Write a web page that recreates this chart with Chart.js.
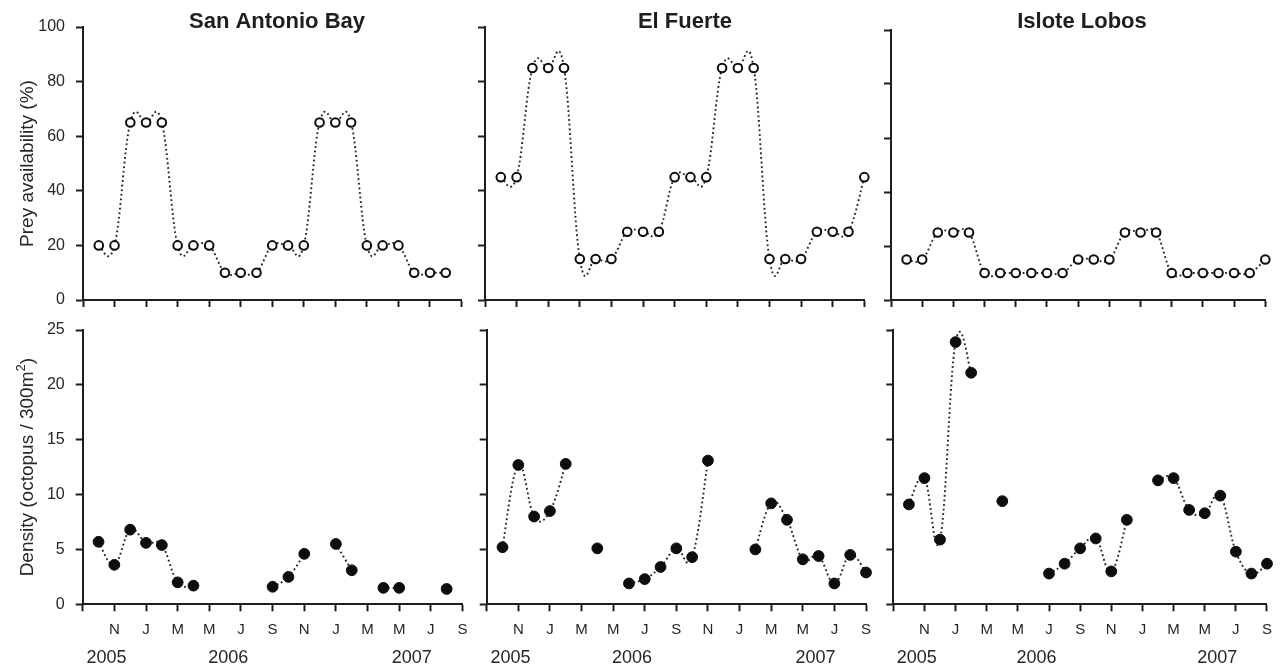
<!DOCTYPE html>
<html>
<head>
<meta charset="utf-8">
<title>Prey availability and octopus density</title>
<script src="https://cdn.jsdelivr.net/npm/chart.js@4.4.1/dist/chart.umd.min.js"></script>
<style>
  html, body { margin: 0; padding: 0; background: #fff; }
  #wrap { position: relative; width: 1282px; height: 668px; overflow: hidden; }
  #wrap canvas { position: absolute; left: 0; top: 0; }
</style>
</head>
<body>
<div id="wrap"></div>
<script>
// ======================================
// DATA
// ======================================
const sites = ['San Antonio Bay', 'El Fuerte', 'Islote Lobos'];

// months counted from Sep 2005 (0) to Sep 2007 (24)
const months = [1, 2, 3, 4, 5, 6, 7, 8, 9, 10, 11, 12, 13, 14, 15, 16, 17, 18, 19, 20, 21, 22, 23, 24];
const monthTicks = ['', 'N', 'J', 'M', 'M', 'J', 'S', 'N', 'J', 'M', 'M', 'J', 'S'];
const years = ['2005', '2006', '2007'];

// Prey availability (%)
const preySAB = [20, 20, 65, 65, 65, 20, 20, 20, 10, 10, 10, 20, 20, 20, 65, 65, 65, 20, 20, 20, 10, 10, 10, null];
const preyEF  = [45, 45, 85, 85, 85, 15, 15, 15, 25, 25, 25, 45, 45, 45, 85, 85, 85, 15, 15, 15, 25, 25, 25, 45];
const preyIL  = [15, 15, 25, 25, 25, 10, 10, 10, 10, 10, 10, 15, 15, 15, 25, 25, 25, 10, 10, 10, 10, 10, 10, 15];

// Density (octopus / 300 m2)
const densSAB = [5.7, 3.6, 6.8, 5.6, 5.4, 2.0, 1.7, null, null, null, null, 1.6, 2.5, 4.6, null, 5.5, 3.1, null, 1.5, 1.5, null, null, 1.4, null];
const densEF  = [5.2, 12.7, 8.0, 8.5, 12.8, null, 5.1, null, 1.9, 2.3, 3.4, 5.1, 4.3, 13.1, null, null, 5.0, 9.2, 7.7, 4.1, 4.4, 1.9, 4.5, 2.9];
const densIL  = [9.1, 11.5, 5.9, 23.9, 21.1, null, 9.4, null, null, 2.8, 3.7, 5.1, 6.0, 3.0, 7.7, null, 11.3, 11.5, 8.6, 8.3, 9.9, 4.8, 2.8, 3.7];

const prey = [preySAB, preyEF, preyIL];
const density = [densSAB, densEF, densIL];


// ======================================
// LAYOUT / STYLE
// ======================================
const W = 1282, H = 668;
const FONT = '"Liberation Sans", Arial, Helvetica, sans-serif';
const INK = '#1e1e1e';
const TEXT = '#262626';

// plot boxes [left, right, top, bottom] in page pixels
const boxes = [
    [[83, 461.5, 27, 300], [485, 864.3, 27, 300], [891, 1265.3, 30, 300]],
    [[82.7, 462.5, 330, 604.3], [486.7, 866, 330, 604.3], [893.3, 1271.7, 330, 604.3]]
];
const titleX = [277, 685, 1082];
const yearAt = [1.5, 9.2, 20.8];   // month position of each year label
const SMOOTH = 0.2;                 // spline tangent factor


// ======================================
// PLUGINS
// ======================================
// smooth curve through the points (uniform spline, overshoots like the original)
const splinePlugin = {
    id: 'spline',
    beforeDatasetsDraw(chart) {
        chart.getSortedVisibleDatasetMetas().forEach(meta => {
            const line = meta.dataset;
            if (!line) return;
            line.updateControlPoints(chart.chartArea, 'x');
            const pts = meta.data;
            pts.forEach((p, i) => {
                if (p.skip) return;
                const a = (i > 0 && !pts[i - 1].skip) ? pts[i - 1] : p;
                const b = (i < pts.length - 1 && !pts[i + 1].skip) ? pts[i + 1] : p;
                const dx = (b.x - a.x) * SMOOTH;
                const dy = (b.y - a.y) * SMOOTH;
                p.cp1x = p.x - dx; p.cp1y = p.y - dy;
                p.cp2x = p.x + dx; p.cp2y = p.y + dy;
            });
        });
    }
};

// titles, year labels, y axis titles
const textPlugin = {
    id: 'panelText',
    afterDraw(chart, args, opts) {
        const ctx = chart.ctx;
        const area = chart.chartArea;
        ctx.save();
        ctx.fillStyle = INK;

        if (opts.title) {
            ctx.font = 'bold 22px ' + FONT;
            ctx.textAlign = 'center';
            ctx.textBaseline = 'alphabetic';
            ctx.fillText(opts.title, opts.titleX, 28);
        }

        if (opts.years) {
            ctx.font = '18px ' + FONT;
            ctx.fillStyle = TEXT;
            ctx.textAlign = 'center';
            ctx.textBaseline = 'alphabetic';
            years.forEach((y, i) => {
                ctx.fillText(y, chart.scales.x.getPixelForValue(yearAt[i]), 663);
            });
        }

        if (opts.yTitle) {
            const parts = opts.yTitle;
            const midY = (area.top + area.bottom) / 2;
            ctx.translate(33, midY);
            ctx.rotate(-Math.PI / 2);
            ctx.fillStyle = TEXT;
            ctx.textAlign = 'left';
            ctx.textBaseline = 'alphabetic';
            let total = 0;
            parts.forEach(p => {
                ctx.font = p.size + 'px ' + FONT;
                p.w = ctx.measureText(p.t).width;
                total += p.w;
            });
            let x = -total / 2;
            parts.forEach(p => {
                ctx.font = p.size + 'px ' + FONT;
                ctx.fillText(p.t, x, -(p.rise || 0));
                x += p.w;
            });
        }
        ctx.restore();
    }
};


// ======================================
// PANELS
// ======================================
const wrap = document.getElementById('wrap');

function makePanel(row, col) {
    const isTop = row === 0;
    const [L, R, T, B] = boxes[row][col];
    const yW = 60;
    const xH = isTop ? 10 : 40;
    const values = isTop ? prey[col] : density[col];

    const canvas = document.createElement('canvas');
    canvas.width = W;
    canvas.height = H;
    wrap.appendChild(canvas);

    let yTitle = null;
    if (col === 0) {
        yTitle = isTop
            ? [{ t: 'Prey availability (%)', size: 19 }]
            : [{ t: 'Density (octopus / 300m', size: 19 }, { t: '2', size: 13, rise: 8 }, { t: ')', size: 19 }];
    }

    return new Chart(canvas, {
        type: 'line',
        data: {
            datasets: [{
                data: months.map((m, i) => ({ x: m, y: values[i] })),
                borderColor: '#222',
                borderWidth: 1.9,
                borderDash: [1.8, 2.8],
                tension: 0.3,
                spanGaps: false,
                clip: false,
                pointRadius: isTop ? 4.3 : 5.4,
                pointBorderWidth: isTop ? 2 : 1,
                pointBackgroundColor: isTop ? '#fff' : '#0d0d0d',
                pointBorderColor: '#0d0d0d'
            }]
        },
        options: {
            responsive: false,
            animation: false,
            events: [],
            layout: {
                padding: { left: L - yW, right: W - R, top: T, bottom: H - B - xH }
            },
            plugins: {
                legend: { display: false },
                tooltip: { enabled: false },
                panelText: {
                    title: isTop ? sites[col] : null,
                    titleX: titleX[col],
                    years: !isTop,
                    yTitle: yTitle
                }
            },
            scales: {
                x: {
                    type: 'linear',
                    min: 0,
                    max: 24,
                    ticks: {
                        stepSize: 2,
                        autoSkip: false,
                        maxRotation: 0,
                        padding: 10,
                        color: TEXT,
                        font: { family: FONT, size: 15 },
                        callback: (v, i) => isTop ? '' : monthTicks[i]
                    },
                    grid: { drawOnChartArea: false, drawTicks: true, tickLength: 7, tickColor: INK, tickWidth: 2 },
                    border: { color: INK, width: 2 },
                    afterFit: s => { s.height = xH; }
                },
                y: {
                    min: 0,
                    max: isTop ? 100 : 25,
                    ticks: {
                        stepSize: isTop ? 20 : 5,
                        padding: 11,
                        color: TEXT,
                        font: { family: FONT, size: 16 },
                        callback: v => col === 0 ? v : ''
                    },
                    grid: { drawOnChartArea: false, drawTicks: true, tickLength: 7, tickColor: INK, tickWidth: 2 },
                    border: { color: INK, width: 2 },
                    afterFit: s => { s.width = yW; }
                }
            }
        },
        plugins: [splinePlugin, textPlugin]
    });
}

for (let r = 0; r < 2; r++) {
    for (let c = 0; c < 3; c++) {
        makePanel(r, c);
    }
}
</script>
</body>
</html>
